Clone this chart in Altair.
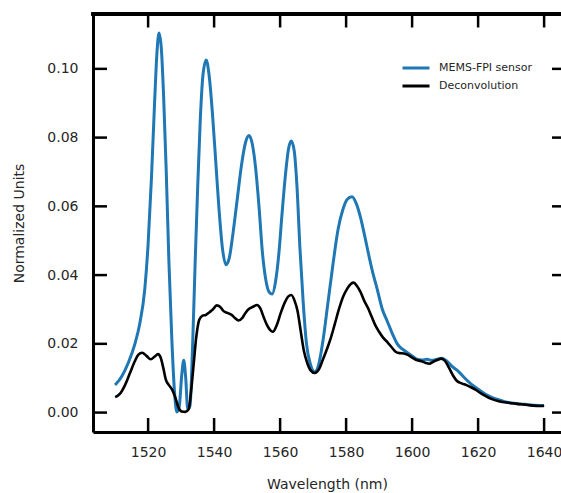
import altair as alt
import pandas as pd

# ---- data ----
blue_x = [1510, 1512, 1514, 1516, 1517.5, 1519, 1520, 1521, 1522, 1522.7, 1523.3, 1524, 1524.7,
          1525.5, 1526.3, 1527.2, 1528, 1528.7, 1529.4, 1530.2, 1530.8, 1531.4, 1532, 1532.7,
          1533.5, 1534.3, 1535, 1535.8, 1536.6, 1537.6, 1538.5, 1539.5, 1540.5, 1541.5, 1542.5,
          1543.6, 1544.6, 1545.7, 1547, 1548.3, 1549.5, 1550.6, 1551.6, 1552.6, 1553.6, 1554.6,
          1555.6, 1556.7, 1557.6, 1558.6, 1559.6, 1560.6, 1561.6, 1562.5, 1563.4, 1564.3, 1565.1,
          1566, 1567, 1568, 1569.2, 1570.5, 1571.7, 1573, 1574.5, 1576, 1577.5, 1579, 1580.3,
          1581.8, 1583, 1584.3, 1585.5, 1586.6, 1588, 1589.4, 1591, 1592.5, 1594, 1595.5, 1597,
          1598.5, 1600, 1601.5, 1603, 1604.5, 1606, 1607.5, 1609, 1610.5, 1612, 1614, 1616, 1618,
          1620, 1622, 1624, 1626, 1628, 1630, 1633, 1636, 1640]
blue_y = [0.0080, 0.0105, 0.0145, 0.0200, 0.0260, 0.0360, 0.0490, 0.0680, 0.0910, 0.1050, 0.1104,
          0.1060, 0.0920, 0.0700, 0.0440, 0.0210, 0.0060, 0.0002, 0.0015, 0.0110, 0.0152, 0.0100,
          0.0010, 0.0020, 0.0200, 0.0450, 0.0650, 0.0850, 0.0980, 0.1026, 0.0980, 0.0870, 0.0730,
          0.0590, 0.0480, 0.0430, 0.0450, 0.0520, 0.0620, 0.0720, 0.0785, 0.0806, 0.0780, 0.0710,
          0.0600, 0.0470, 0.0390, 0.0350, 0.0345, 0.0380, 0.0460, 0.0580, 0.0690, 0.0765, 0.0790,
          0.0760, 0.0660, 0.0480, 0.0320, 0.0200, 0.0140, 0.0118, 0.0140, 0.0210, 0.0320, 0.0430,
          0.0530, 0.0590, 0.0620, 0.0628, 0.0610, 0.0570, 0.0520, 0.0470, 0.0410, 0.0360, 0.0300,
          0.0265, 0.0230, 0.0200, 0.0185, 0.0175, 0.0165, 0.0155, 0.0153, 0.0155, 0.0152, 0.0155,
          0.0158, 0.0150, 0.0135, 0.0120, 0.0100, 0.0082, 0.0068, 0.0055, 0.0045, 0.0038, 0.0032,
          0.0028, 0.0025, 0.0022, 0.0020]

black_x = [1510, 1511.5, 1513, 1514.5, 1516, 1517, 1518.2, 1519.5, 1520.8, 1522, 1523, 1523.8,
           1524.6, 1525.4, 1526.3, 1527.2, 1528.2, 1529.2, 1530.2, 1531.3, 1532.3, 1533, 1533.8,
           1534.6, 1535.5, 1536.5, 1537.5, 1538.6, 1539.6, 1540.8, 1541.8, 1542.8, 1544, 1545.2,
           1546.3, 1547.4, 1548.5, 1549.5, 1550.6, 1551.8, 1553, 1554, 1555, 1556, 1557, 1557.8,
           1559, 1560.2, 1561.4, 1562.5, 1563.4, 1564.4, 1565.3, 1566.2, 1567.2, 1568.2, 1569.3,
           1570.5, 1571.7, 1573, 1574.2, 1575.3, 1576.5, 1577.8, 1579, 1580.3, 1581.5, 1582.3,
           1583.3, 1584.4, 1585.5, 1586.6, 1587.7, 1588.8, 1590, 1591.2, 1592.5, 1593.8, 1595,
           1596.2, 1597.5, 1598.7, 1600, 1601.3, 1602.6, 1604, 1605.2, 1606.4, 1607.6, 1608.8,
           1610, 1611.2, 1612.4, 1613.6, 1615, 1616.5, 1618, 1619.5, 1621, 1622.5, 1624, 1626,
           1628, 1630.5, 1633, 1636, 1638.5, 1640]
black_y = [0.0045, 0.0055, 0.0080, 0.0115, 0.0150, 0.0168, 0.0174, 0.0165, 0.0155, 0.0163, 0.0170,
           0.0160, 0.0130, 0.0095, 0.0080, 0.0068, 0.0045, 0.0015, 0.0003, 0.0002, 0.0010, 0.0060,
           0.0140, 0.0220, 0.0270, 0.0282, 0.0284, 0.0292, 0.0300, 0.0312, 0.0308, 0.0296, 0.0290,
           0.0285, 0.0275, 0.0268, 0.0275, 0.0290, 0.0302, 0.0308, 0.0313, 0.0303, 0.0278, 0.0255,
           0.0240, 0.0235, 0.0255, 0.0290, 0.0320, 0.0338, 0.0342, 0.0325, 0.0295, 0.0240, 0.0180,
           0.0145, 0.0122, 0.0115, 0.0125, 0.0155, 0.0185, 0.0215, 0.0255, 0.0300, 0.0335, 0.0360,
           0.0375, 0.0378, 0.0368, 0.0350, 0.0325, 0.0305, 0.0280, 0.0255, 0.0235, 0.0218, 0.0205,
           0.0190, 0.0177, 0.0173, 0.0172, 0.0168, 0.0160, 0.0153, 0.0150, 0.0145, 0.0142, 0.0148,
           0.0153, 0.0157, 0.0150, 0.0130, 0.0108, 0.0092, 0.0085, 0.0080, 0.0073, 0.0065, 0.0055,
           0.0047, 0.0040, 0.0034, 0.0030, 0.0027, 0.0024, 0.0021, 0.0019, 0.0020]

series_names = ["MEMS-FPI sensor", "Deconvolution"]
series_colors = ["#1f77b4", "#000000"]
x_ticks = [1520, 1540, 1560, 1580, 1600, 1620, 1640]
y_ticks = [0.00, 0.02, 0.04, 0.06, 0.08, 0.10]

W, H = 468, 418
FONT = "DejaVu Sans"
TXT = "#262626"

blue_df = pd.DataFrame({"x": blue_x, "y": blue_y, "series": series_names[0]})
black_df = pd.DataFrame({"x": black_x, "y": black_y, "series": series_names[1]})
xt_df = pd.DataFrame({"x": x_ticks})
yt_df = pd.DataFrame({"y": y_ticks})

xscale = alt.Scale(domain=[1503.3, 1645.12], nice=False, zero=False)
yscale = alt.Scale(domain=[-0.00565, 0.11596], nice=False, zero=False)

color = alt.Color("series:N",
                  scale=alt.Scale(domain=series_names, range=series_colors),
                  legend=alt.Legend(title=None, orient="none", legendX=308, legendY=45,
                                    symbolType="stroke", symbolSize=729, symbolStrokeWidth=3,
                                    labelFontSize=11, labelFont=FONT, labelColor=TXT,
                                    clipHeight=18, rowPadding=0, padding=0, labelOffset=8))

x_axis = alt.Axis(values=x_ticks, format="d", ticks=False, grid=False, domainWidth=3,
                  domainColor="black", labelFontSize=14, labelFont=FONT, labelColor=TXT,
                  labelPadding=13, title="Wavelength (nm)", titleFontSize=14, titleFont=FONT,
                  titleFontWeight="normal", titleColor=TXT, titlePadding=18)
y_axis = alt.Axis(values=y_ticks, format=".2f", ticks=False, grid=False, domainWidth=3,
                  domainColor="black", labelFontSize=14, labelFont=FONT, labelColor=TXT,
                  labelPadding=15, title="Normalized Units", titleFontSize=14, titleFont=FONT,
                  titleFontWeight="normal", titleColor=TXT, titlePadding=20)

blue_line = alt.Chart(blue_df).mark_line(strokeWidth=3, interpolate="monotone").encode(
    x=alt.X("x:Q", scale=xscale, axis=x_axis),
    y=alt.Y("y:Q", scale=yscale, axis=y_axis),
    color=color,
)
black_line = alt.Chart(black_df).mark_line(strokeWidth=2.6, interpolate="monotone").encode(
    x=alt.X("x:Q", scale=xscale, axis=x_axis),
    y=alt.Y("y:Q", scale=yscale, axis=y_axis),
    color=color,
)

tick_style = dict(color="black", strokeWidth=2.5)
bottom_ticks = alt.Chart(xt_df).mark_rule(**tick_style).encode(
    x=alt.X("x:Q", scale=xscale, axis=x_axis), y=alt.value(H), y2=alt.value(H - 14))
top_ticks = alt.Chart(xt_df).mark_rule(**tick_style).encode(
    x=alt.X("x:Q", scale=xscale, axis=x_axis), y=alt.value(0), y2=alt.value(13.5))
left_ticks = alt.Chart(yt_df).mark_rule(**tick_style).encode(
    y=alt.Y("y:Q", scale=yscale, axis=y_axis), x=alt.value(0), x2=alt.value(14))
right_ticks = alt.Chart(yt_df).mark_rule(**tick_style).encode(
    y=alt.Y("y:Q", scale=yscale, axis=y_axis), x=alt.value(W - 9), x2=alt.value(W))
top_spine = alt.Chart(xt_df).mark_rule(color="black", strokeWidth=3).encode(
    x=alt.value(-1.5), x2=alt.value(W), y=alt.value(0))

chart = alt.layer(blue_line, black_line, bottom_ticks, top_ticks, left_ticks, right_ticks,
                  top_spine).properties(
    width=W, height=H,
    autosize=alt.AutoSizeParams(type="none"),
    padding={"left": 93, "top": 14, "right": 0, "bottom": 61},
).configure_view(stroke=None).configure(background="white")

chart.save("out.html", embed_options={"renderer": "svg", "actions": False})
